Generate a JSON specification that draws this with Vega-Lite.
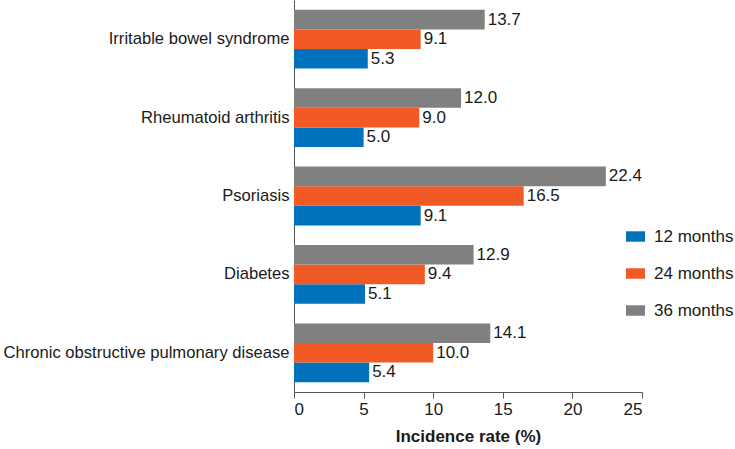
{
  "$schema": "https://vega.github.io/schema/vega-lite/v6.json",
  "width": 348,
  "height": 392,
  "autosize": {"type": "none"},
  "padding": {"left": 294, "top": 0, "right": 93, "bottom": 57},
  "background": "white",
  "config": {
    "view": {"stroke": null},
    "font": "Liberation Sans",
    "axis": {"labelFont": "Liberation Sans", "titleFont": "Liberation Sans", "labelColor": "#1a1a1a", "titleColor": "#1a1a1a", "domainColor": "#555555", "tickColor": "#555555", "grid": false}
  },
  "data": {
    "values": [
      {"disease": "Irritable bowel syndrome", "period": "12 months", "rate": 5.3},
      {"disease": "Irritable bowel syndrome", "period": "24 months", "rate": 9.1},
      {"disease": "Irritable bowel syndrome", "period": "36 months", "rate": 13.7},
      {"disease": "Rheumatoid arthritis", "period": "12 months", "rate": 5.0},
      {"disease": "Rheumatoid arthritis", "period": "24 months", "rate": 9.0},
      {"disease": "Rheumatoid arthritis", "period": "36 months", "rate": 12.0},
      {"disease": "Psoriasis", "period": "12 months", "rate": 9.1},
      {"disease": "Psoriasis", "period": "24 months", "rate": 16.5},
      {"disease": "Psoriasis", "period": "36 months", "rate": 22.4},
      {"disease": "Diabetes", "period": "12 months", "rate": 5.1},
      {"disease": "Diabetes", "period": "24 months", "rate": 9.4},
      {"disease": "Diabetes", "period": "36 months", "rate": 12.9},
      {"disease": "Chronic obstructive pulmonary disease", "period": "12 months", "rate": 5.4},
      {"disease": "Chronic obstructive pulmonary disease", "period": "24 months", "rate": 10.0},
      {"disease": "Chronic obstructive pulmonary disease", "period": "36 months", "rate": 14.1}
    ]
  },
  "encoding": {
    "y": {
      "field": "disease", "type": "nominal",
      "sort": ["Irritable bowel syndrome", "Rheumatoid arthritis", "Psoriasis", "Diabetes", "Chronic obstructive pulmonary disease"],
      "scale": {"paddingInner": 0.25, "paddingOuter": 0.125},
      "axis": {"title": null, "ticks": false, "labelFontSize": 16.6, "labelPadding": 5, "domainColor": "#555555", "labelLimit": 400}
    },
    "yOffset": {
      "field": "period", "type": "nominal",
      "sort": ["36 months", "24 months", "12 months"]
    },
    "x": {
      "field": "rate", "type": "quantitative",
      "scale": {"domain": [0, 25]},
      "axis": {"values": [0, 5, 10, 15, 20, 25], "title": "Incidence rate (%)", "titleFontSize": 17, "titleFontWeight": "bold", "titlePadding": 11, "labelFontSize": 17, "tickSize": 6, "labelPadding": 3}
    }
  },
  "layer": [
    {
      "mark": {"type": "bar"},
      "encoding": {
        "color": {
          "field": "period", "type": "nominal",
          "scale": {"domain": ["12 months", "24 months", "36 months"], "range": ["#0072BC", "#F15A24", "#808080"]},
          "legend": {
            "title": null, "orient": "none", "legendX": 332, "legendY": 227,
            "symbolType": "M-1,-0.55L1,-0.55L1,0.55L-1,0.55Z", "symbolSize": 361,
            "symbolStrokeWidth": 0,
            "labelFontSize": 17, "labelColor": "#1a1a1a", "labelOffset": 9,
            "rowPadding": 19, "padding": 0
          }
        }
      }
    },
    {
      "mark": {"type": "text", "align": "left", "baseline": "middle", "dx": 3, "fontSize": 17, "color": "#1a1a1a"},
      "encoding": {
        "text": {"field": "rate", "type": "quantitative", "format": ".1f"}
      }
    }
  ]
}
